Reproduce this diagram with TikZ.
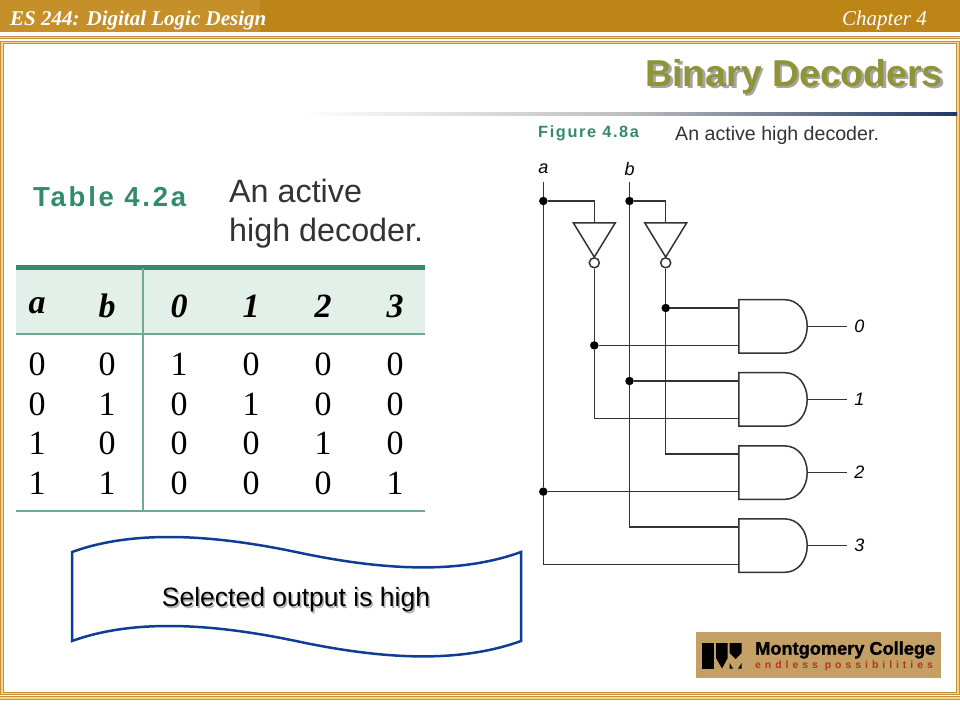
\documentclass[tikz,border=0pt]{standalone}
\usepackage{xcolor}
\usepackage{fontspec}
\setmainfont{Liberation Sans}
\newfontfamily\timesface{Liberation Serif}
\usetikzlibrary{calc, positioning}

\definecolor{bandgold}{HTML}{BD8517}
\definecolor{bandlight}{HTML}{C58F2A}
\definecolor{framegold}{HTML}{C8923A}
\definecolor{framepale}{HTML}{F2D58C}
\definecolor{titleolive}{HTML}{8F9437}
\definecolor{tablegreen}{HTML}{348A6C}
\definecolor{tableline}{HTML}{6FAA94}
\definecolor{tableband}{HTML}{E3EFE9}
\definecolor{flagblue}{HTML}{0F3D96}
\definecolor{rulenavy}{HTML}{1F3864}
\definecolor{logotan}{HTML}{C4A066}
\definecolor{logored}{HTML}{B5341E}

\begin{document}
\begin{tikzpicture}[
    x=1pt, y=-1pt,
    headtext/.style={text=white, inner sep=0pt, anchor=west, font=\timesface\itshape\fontsize{21}{24}\selectfont},
    framerule/.style={draw=framegold, double=framepale, double distance=1.2pt, line width=1pt},
    thead/.style={inner sep=0pt, font=\timesface\bfseries\itshape\fontsize{34}{40}\selectfont},
    tcell/.style={inner sep=0pt, font=\timesface\fontsize{34}{40}\selectfont},
    figtag/.style={inner sep=0pt, anchor=west, text=tablegreen, font=\bfseries},
    caption/.style={inner sep=0pt, anchor=west, text=black!80},
    wire/.style={draw=black!80, line width=1.5pt},
    gatebox/.style={minimum width=68pt, minimum height=53pt, inner sep=0pt},
    invbox/.style={minimum width=41.4pt, minimum height=33.7pt, inner sep=0pt},
    bubble/.style={circle, draw=black!80, fill=white, line width=1.5pt, minimum size=10pt, inner sep=0pt},
    dot/.style={circle, fill=black, minimum size=8.5pt, inner sep=0pt},
    inlabel/.style={inner sep=0pt, minimum height=26pt, font=\itshape\fontsize{18}{20}\selectfont},
    outlabel/.style={inner xsep=7pt, inner ysep=0pt, font=\itshape\fontsize{18}{20}\selectfont}
]
    \useasboundingbox (0,0) rectangle (960,720);

    % Header band and frame
    \fill[bandgold] (0,0) rectangle (960,32);
    \fill[bandlight] (0,0) rectangle (260,32);
    \node[headtext, font=\timesface\bfseries\itshape\fontsize{21}{24}\selectfont] (course) at (10,20) {ES 244: Digital Logic Design};
    \node[headtext] (chapter) at (842,20) {Chapter 4};
    \draw[framerule] (0,37.6) -- (960,37.6);
    \draw[framerule] (0,698) -- (960,698);
    \draw[framerule] (2,42.4) rectangle (958,693.6);

    % Title and rule
    \node[inner sep=0pt, anchor=east, text=black!35, font=\bfseries\fontsize{37.4}{42}\selectfont] (titleshadow) at (945.5,79) {Binary Decoders};
    \node[inner sep=0pt, anchor=east, text=titleolive, font=\bfseries\fontsize{37.4}{42}\selectfont] (title) at (943,77) {Binary Decoders};
    \shade[left color=white, right color=black!25] (300,112) rectangle (620,115.5);
    \shade[left color=black!25, right color=rulenavy] (620,112) rectangle (957,115.5);

    % Table
    \node[figtag, font=\bfseries\fontsize{27.5}{32}\selectfont\addfontfeature{LetterSpace=10}] (tabletag) at (33,197) {Table 4.2a};
    \node[caption, align=left, font=\fontsize{32.3}{39}\selectfont] (tablecap) at (229,214) {An active\\high decoder.};
    \fill[tableband] (16,268) rectangle (425,334);
    \draw[tablegreen, line width=5pt] (16,267.7) -- (425,267.7);
    \draw[tableline, line width=2pt] (16,333.8) -- (425,333.8);
    \draw[tableline, line width=2pt] (16,511) -- (425,511);
    \draw[tableline, line width=2.5pt] (143,268) -- (143,511);
    \foreach \x/\lab in {37/a, 107/b, 179/0, 251/1, 323/2, 395/3}
        \node[thead] (head\lab) at (\x,306) {\lab};
    \foreach \r/\va/\vb/\vc/\vd/\ve/\vf in {364/0/0/1/0/0/0, 404/0/1/0/1/0/0, 443/1/0/0/0/1/0, 483/1/1/0/0/0/1}
        \foreach \x/\v in {37/\va, 107/\vb, 179/\vc, 251/\vd, 323/\ve, 395/\vf}
            \node[tcell] (cell\r-\x) at (\x,\r) {\v};

    % Banner
    \draw[flagblue, line width=2.5pt, line join=miter]
        (72,552) .. controls (130,531) and (205,533) .. (296,552)
        .. controls (385,571) and (460,574) .. (521,552) -- (521,641)
        .. controls (460,663) and (385,660) .. (296,641)
        .. controls (205,622) and (130,620) .. (72,641) -- cycle;
    \node[inner sep=0pt, text=black!30, font=\fontsize{26.5}{30}\selectfont] (bannershadow) at (297.5,601.5) {Selected output is high};
    \node[inner sep=0pt, font=\fontsize{26.5}{30}\selectfont] (banner) at (296,600) {Selected output is high};

    % Figure captions
    \node[figtag, font=\bfseries\fontsize{16.3}{18}\selectfont\addfontfeature{LetterSpace=10}] (figtag) at (538,133.5) {Figure 4.8a};
    \node[caption, font=\fontsize{19.6}{22}\selectfont] (figcap) at (675,135) {An active high decoder.};

    % Gates
    \foreach \n/\y in {0/326.4, 1/399.4, 2/472.6, 3/545.6} {
        \node[gatebox] (g\n) at (773,\y) {};
        \coordinate (g\n-a) at ($(g\n.west)+(0,-18.4)$);
        \coordinate (g\n-b) at ($(g\n.west)+(0,19)$);
        \draw[wire] (g\n.south west) -- (g\n.north west) -- ++(46,0)
            .. controls +(13,0) and +(0,-15) .. (g\n.east)
            .. controls +(0,15) and +(13,0) .. ($(g\n.south west)+(46,0)$) -- cycle;
        \node[outlabel, right=40pt of g\n] (out\n) {\n};
        \draw[wire] (g\n.east) -- (out\n.west);
    }

    % Inputs and inverters
    \node[inlabel] (a) at (543.3,169) {a};
    \node[inlabel] (b) at (629.5,169) {b};
    \node[invbox] (inva) at (594.3,240) {};
    \node[invbox] (invb) at (665.7,240) {};
    \foreach \i in {inva, invb}
        \draw[wire] (\i.north west) -- (\i.north east) -- (\i.south) -- cycle;
    \node[bubble, below=0pt of inva] (nota) {};
    \node[bubble, below=0pt of invb] (notb) {};

    % Junctions
    \node[dot] (ja) at (a |- 0,201) {};
    \node[dot] (jb) at (b |- 0,201) {};
    \node[dot] (jnb) at (invb |- g0-a) {};
    \node[dot] (jna) at (inva |- g0-b) {};
    \node[dot] (jb1) at (b |- g1-a) {};
    \node[dot] (ja2) at (a |- g2-b) {};

    % Wires
    \draw[wire] (a.south) -- (ja) -- (ja2) |- (g3-b);
    \draw[wire] (b.south) -- (jb) -- (jb1) |- (g3-a);
    \draw[wire] (ja) -| (inva.north);
    \draw[wire] (jb) -| (invb.north);
    \draw[wire] (nota) -- (jna) |- (g1-b);
    \draw[wire] (notb) -- (jnb) |- (g2-a);
    \draw[wire] (jnb) -- (g0-a);
    \draw[wire] (jna) -- (g0-b);
    \draw[wire] (jb1) -- (g1-a);
    \draw[wire] (ja2) -- (g2-b);

    % Logo
    \fill[logotan] (696,632.3) rectangle (941,677.7);
    \fill[black] (702,643) rectangle (714,668.5);
    \fill[black] (716,643) -- (727.7,643) -- (727.7,658) -- (722,668.5) -- (716,658) -- cycle;
    \fill[black] (729.5,643) -- (741.7,643) -- (741.7,653) -- (735.6,659) -- (729.5,653) -- cycle;
    \fill[black] (729.5,663) -- (733,668.5) -- (729.5,668.5) -- cycle;
    \fill[black] (741.7,663) -- (738.2,668.5) -- (741.7,668.5) -- cycle;
    \node[inner sep=0pt, anchor=west, font=\bfseries\fontsize{18.2}{20}\selectfont\addfontfeature{FakeBold=1.5}] (college) at (755,650) {Montgomery College};
    \node[inner sep=0pt, anchor=west, text=logored, font=\bfseries\fontsize{10.5}{12}\selectfont\addfontfeature{LetterSpace=37.6}] (motto) at (755,666) {endless possibilities};
\end{tikzpicture}
\end{document}
